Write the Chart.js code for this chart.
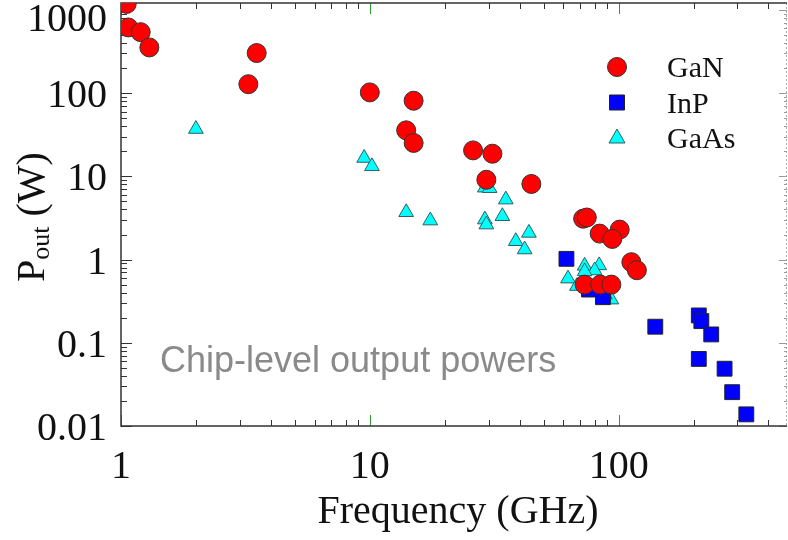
<!DOCTYPE html>
<html>
<head>
<meta charset="utf-8">
<script src="https://cdn.jsdelivr.net/npm/chart.js@4.4.1/dist/chart.umd.min.js"></script>
<style>
  html, body { margin: 0; padding: 0; background: #fff; }
  #wrap { width: 788px; height: 540px; position: relative; }
</style>
</head>
<body>
<div id="wrap"><canvas id="c"></canvas></div>
<script>
// ---- Data (frequency GHz, output power W) ----
const ganFreq  = [1.054, 1.07, 1.20, 1.30, 3.25, 3.51, 10.0, 15.0, 14.0, 15.0, 26.0, 31.1, 29.4, 44.6, 72, 74.5, 83.9, 101, 94.3, 112.5, 118.4, 73, 84.3, 93.5];
const ganPower = [1180, 615, 540, 354, 128, 303, 102, 81, 35.7, 25.2, 20.5, 18.7, 9.1, 8.1, 3.1, 3.2, 2.05, 2.29, 1.77, 0.93, 0.744, 0.50, 0.50, 0.50];

const inpFreq  = [61.7, 76, 86.5, 140.4, 210, 215, 235.6, 210, 266.6, 286, 326];
const inpPower = [1.02, 0.436, 0.353, 0.156, 0.213, 0.182, 0.126, 0.064, 0.0488, 0.0255, 0.0138];

const gaasFreq  = [2.0, 9.49, 10.2, 14.0, 17.5, 29.0, 30.3, 35.2, 29.0, 29.4, 34.1, 38.6, 43.6, 41.9, 62.6, 73.0, 83.5, 80.1, 73, 68, 93.5, 88];
const gaasPower = [37, 16.6, 13.2, 3.7, 2.94, 7.3, 7.2, 5.25, 3.02, 2.63, 3.31, 1.66, 2.09, 1.32, 0.59, 0.84, 0.85, 0.74, 0.72, 0.48, 0.33, 0.38];

const seriesNames = ['GaN', 'InP', 'GaAs'];
const xTickLabels = ['1', '10', '100'];
const yTickLabels = ['0.01', '0.1', '1', '10', '100', '1000'];
const xTitle = 'Frequency (GHz)';
const annotationText = 'Chip-level output powers';

const toPts = (xs, ys) => xs.map((x, i) => ({ x: x, y: ys[i] }));

const SERIF = '"Liberation Serif", "Times New Roman", serif';
const SANS = '"Liberation Sans", Arial, sans-serif';

const axesPlugin = {
  id: 'axesPlugin',
  beforeDatasetsDraw(chart) {
    const ctx = chart.ctx;
    const a = chart.chartArea;
    const xs = chart.scales.x, ys = chart.scales.y;
    ctx.save();
    // annotation text
    ctx.font = '36px ' + SANS;
    ctx.fillStyle = '#8a8a8a';
    ctx.textAlign = 'left';
    ctx.textBaseline = 'alphabetic';
    ctx.fillText(annotationText, 160, 372);

    // right border (dotted, gray)
    ctx.strokeStyle = '#aaaaaa';
    ctx.lineWidth = 1;
    ctx.setLineDash([2, 2]);
    ctx.beginPath();
    ctx.moveTo(a.right - 0.5, a.top);
    ctx.lineTo(a.right - 0.5, a.bottom);
    ctx.stroke();
    ctx.setLineDash([]);

    // x ticks (bottom and top)
    const xVals = [];
    for (let d = 1; d <= 100; d *= 10) for (let k = 1; k <= 9; k++) { const v = d * k; if (v <= xs.max) xVals.push([v, k === 1]); }
    xVals.forEach(([v, major]) => {
      const px = Math.round(xs.getPixelForValue(v)) + 0.5;
      const len = major ? 11 : 6;
      ctx.strokeStyle = major ? '#2a9d2a' : '#333';
      ctx.lineWidth = 1;
      ctx.beginPath();
      ctx.moveTo(px, a.bottom); ctx.lineTo(px, a.bottom - len);
      ctx.moveTo(px, a.top); ctx.lineTo(px, a.top + len);
      ctx.stroke();
    });
    // y ticks (left, and gray right)
    const yVals = [];
    for (let d = 0.01; d <= 1000.1; d *= 10) for (let k = 1; k <= 9; k++) { const v = d * k; if (v <= ys.max) yVals.push([v, k === 1]); }
    yVals.forEach(([v, major]) => {
      const py = Math.round(ys.getPixelForValue(v)) + 0.5;
      const len = major ? 11 : 6;
      ctx.strokeStyle = '#333';
      ctx.lineWidth = 1;
      ctx.beginPath();
      ctx.moveTo(a.left, py); ctx.lineTo(a.left + len, py);
      ctx.stroke();
      ctx.strokeStyle = '#999';
      ctx.beginPath();
      ctx.moveTo(a.right, py); ctx.lineTo(a.right - (major ? 8 : 3), py);
      ctx.stroke();
    });

    // left, bottom, top frame lines
    ctx.strokeStyle = '#333';
    ctx.lineWidth = 1.5;
    ctx.beginPath();
    ctx.moveTo(a.right, a.top); ctx.lineTo(a.left, a.top);
    ctx.lineTo(a.left, a.bottom); ctx.lineTo(a.right, a.bottom);
    ctx.stroke();

    // tick labels
    ctx.fillStyle = '#111';
    ctx.font = '40px ' + SERIF;
    ctx.textAlign = 'center';
    ctx.textBaseline = 'alphabetic';
    xTickLabels.forEach(t => {
      const px = xs.getPixelForValue(parseFloat(t));
      ctx.fillText(t, px, 478);
    });
    ctx.textAlign = 'right';
    yTickLabels.forEach(t => {
      const py = ys.getPixelForValue(parseFloat(t));
      ctx.fillText(t, 107, Math.max(py + 14, 31));
    });

    // axis titles
    ctx.textAlign = 'center';
    ctx.fillText(xTitle, 458, 523);

    ctx.save();
    ctx.translate(44, 282);
    ctx.rotate(-Math.PI / 2);
    ctx.textAlign = 'left';
    ctx.font = '40px ' + SERIF;
    ctx.fillText('P', 0, 0);
    let w = ctx.measureText('P').width;
    ctx.font = '26px ' + SERIF;
    ctx.fillText('out', w, 5);
    w += ctx.measureText('out').width;
    ctx.font = '40px ' + SERIF;
    ctx.fillText(' (W)', w, 0);
    ctx.restore();

    ctx.restore();
  },
  afterDraw(chart) {
    const ctx = chart.ctx;
    ctx.save();
    // legend
    const lx = 617;
    ctx.lineWidth = 1;
    ctx.fillStyle = '#ff0000'; ctx.strokeStyle = '#333';
    ctx.beginPath(); ctx.arc(lx, 67, 9.5, 0, Math.PI * 2); ctx.fill(); ctx.stroke();
    ctx.fillStyle = '#0000ff'; ctx.strokeStyle = '#222';
    ctx.beginPath(); ctx.rect(lx - 7.5, 95, 15, 15); ctx.fill(); ctx.stroke();
    ctx.fillStyle = '#00ffff'; ctx.strokeStyle = '#2f5f5f';
    ctx.beginPath();
    ctx.moveTo(lx, 129); ctx.lineTo(lx + 8, 143); ctx.lineTo(lx - 8, 143); ctx.closePath();
    ctx.fill(); ctx.stroke();
    ctx.fillStyle = '#111';
    ctx.font = '30px ' + SERIF;
    ctx.textAlign = 'left';
    ctx.textBaseline = 'alphabetic';
    ctx.fillText(seriesNames[0], 667, 77);
    ctx.fillText(seriesNames[1], 667, 113);
    ctx.fillText(seriesNames[2], 667, 148);
    ctx.restore();
  }
};

new Chart(document.getElementById('c'), {
  type: 'scatter',
  data: {
    datasets: [
      { label: seriesNames[0], data: toPts(ganFreq, ganPower), pointStyle: 'circle', pointRadius: 9.5, pointHoverRadius: 9.5,
        backgroundColor: '#ff0000', borderColor: '#333333', borderWidth: 1 },
      { label: seriesNames[1], data: toPts(inpFreq, inpPower), pointStyle: 'rect', pointRadius: 10.5, pointHoverRadius: 10.5,
        backgroundColor: '#0000ff', borderColor: '#222222', borderWidth: 1 },
      { label: seriesNames[2], data: toPts(gaasFreq, gaasPower), pointStyle: 'triangle', pointRadius: 8.5, pointHoverRadius: 8.5,
        backgroundColor: '#00ffff', borderColor: '#2f5f5f', borderWidth: 1 }
    ]
  },
  options: {
    responsive: true,
    maintainAspectRatio: false,
    animation: false,
    events: [],
    layout: { autoPadding: false, padding: { left: 121, right: 1, top: 3, bottom: 114 } },
    plugins: { legend: { display: false }, tooltip: { enabled: false } },
    scales: {
      x: { type: 'logarithmic', min: 1, max: 475, bounds: 'data', display: false },
      y: { type: 'logarithmic', min: 0.01, max: 1210, bounds: 'data', display: false }
    }
  },
  plugins: [axesPlugin]
});
</script>
</body>
</html>
